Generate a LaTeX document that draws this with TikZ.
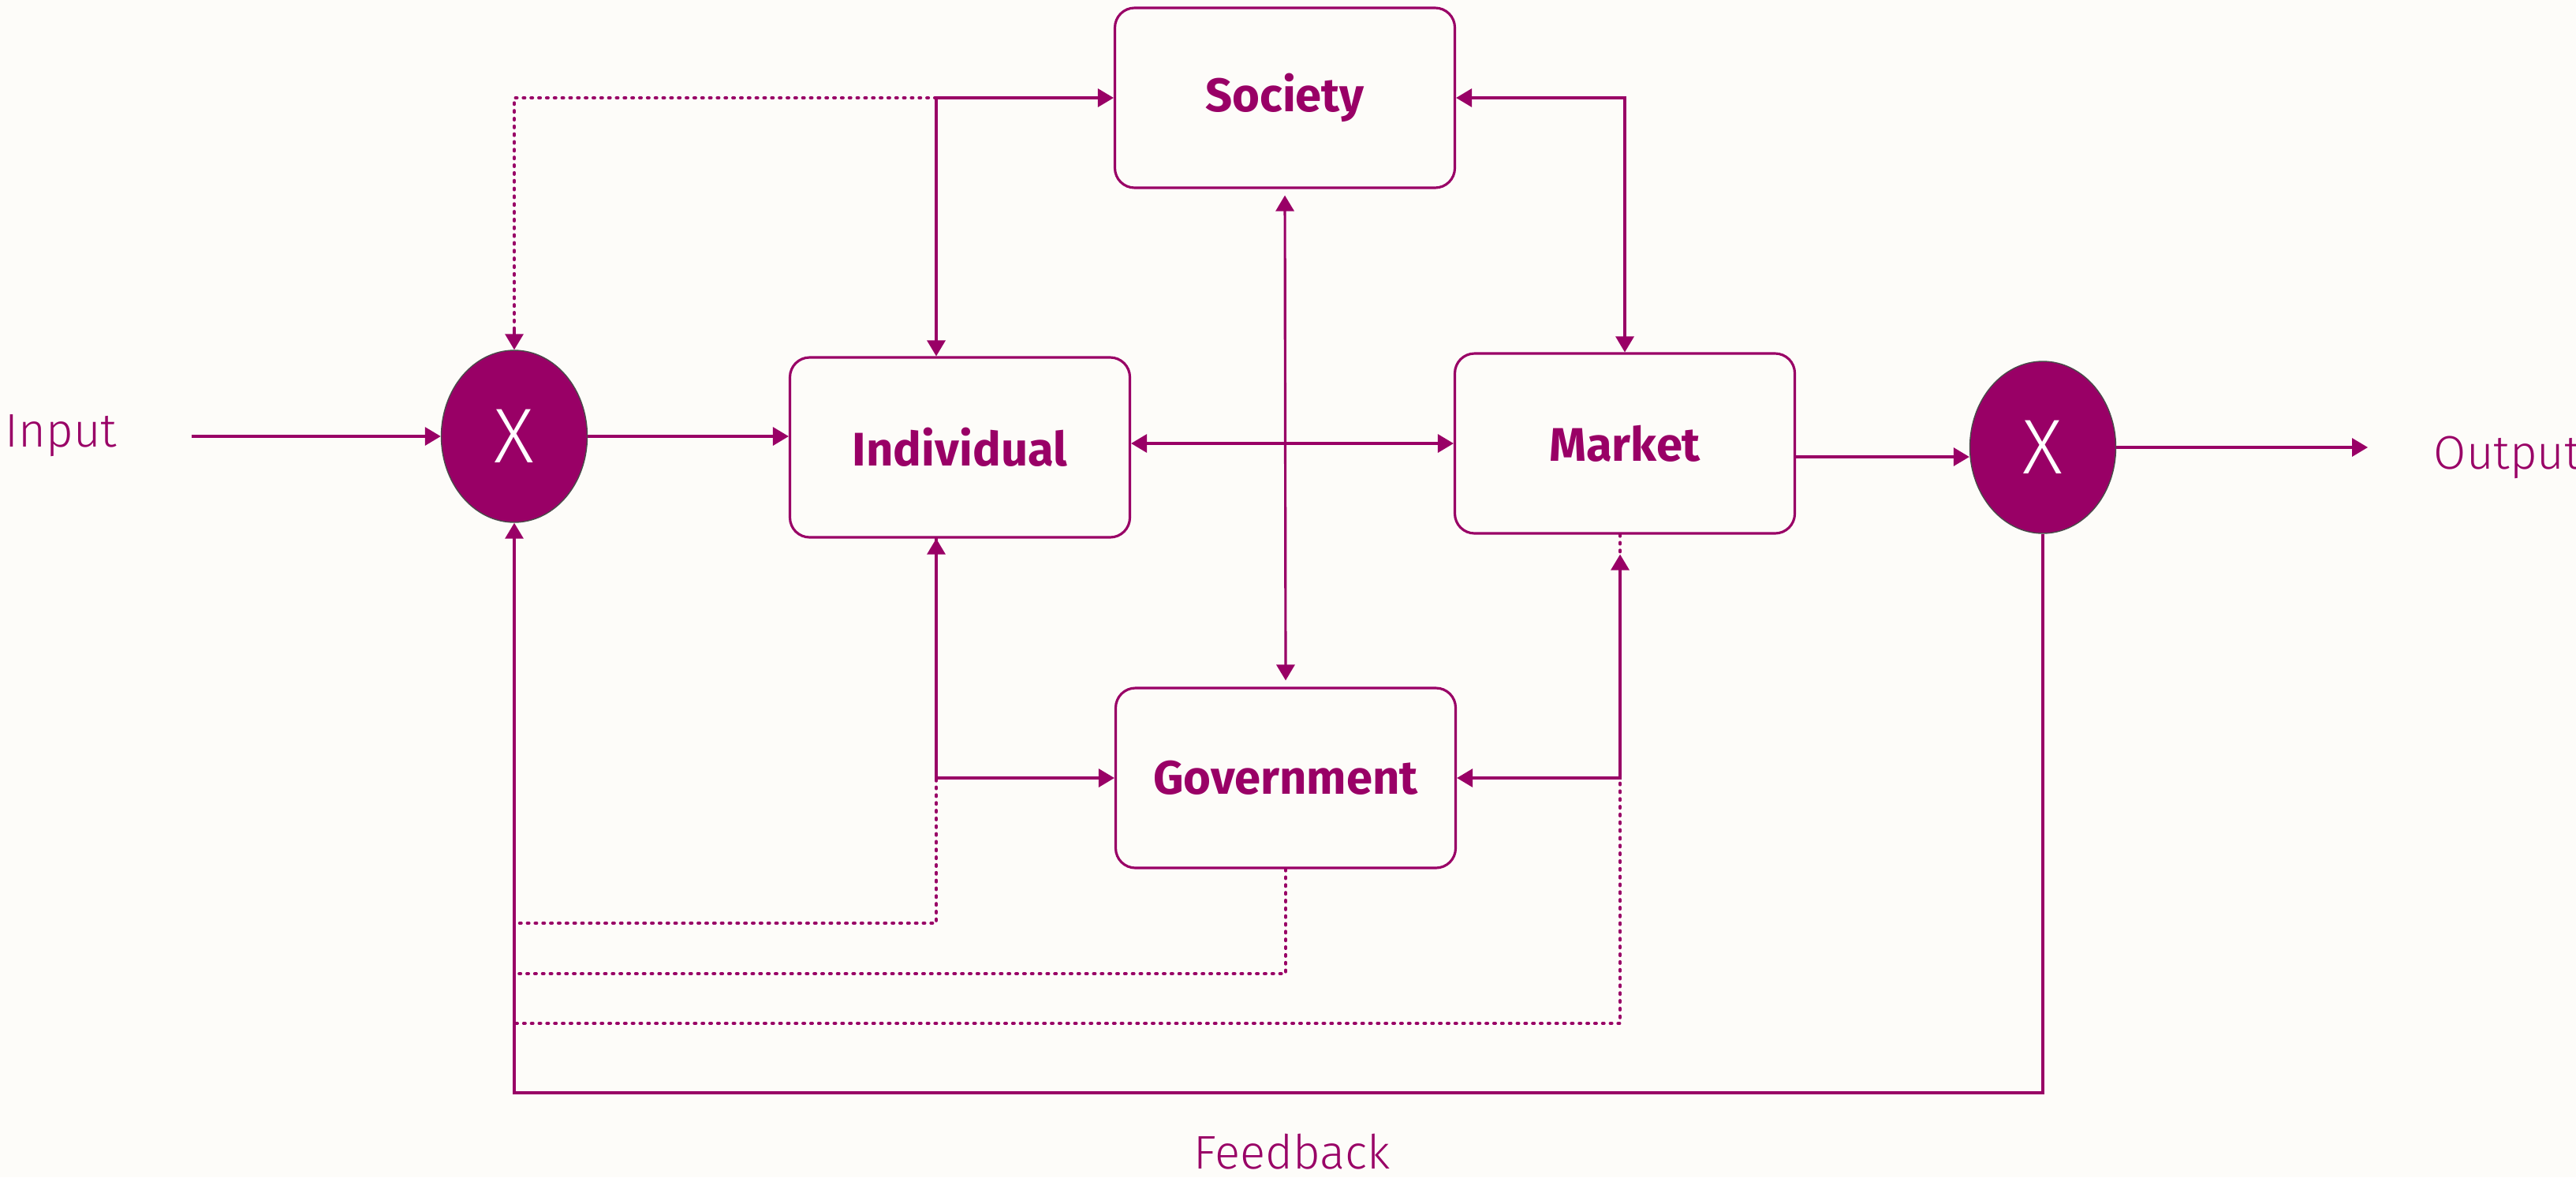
\documentclass[tikz,border=0pt]{standalone}
\usepackage{fontspec}
\setmainfont{Fira Sans}
\newfontfamily\thinfont{Fira Sans Light}
\usepackage{tikz}
\usetikzlibrary{arrows.meta, shapes.geometric}
\definecolor{plum}{HTML}{990066}
\definecolor{paper}{HTML}{FDFCF9}
\definecolor{rim}{HTML}{4A4A4A}

\begin{document}
\begin{tikzpicture}[>={Triangle[length=0.2cm, width=0.23cm]},
  block/.style={draw=plum, line width=0.9pt, rounded corners=0.25cm, minimum width=4.31cm, minimum height=2.28cm, text=plum, font=\fontsize{17}{20}\selectfont\bfseries},
  mult/.style={ellipse, draw=rim, line width=0.4pt, fill=plum, minimum width=1.85cm, minimum height=2.18cm, inner sep=0pt, text=white, font=\thinfont\fontsize{28}{32}\selectfont},
  tag/.style={text=plum, inner sep=0pt, font=\thinfont\fontsize{17}{20}\selectfont},
  link/.style={draw=plum, line width=0.9pt},
  fb/.style={draw=plum, line width=1.1pt, line cap=round, dash pattern=on 0.6pt off 2.2pt}]
  \useasboundingbox[fill=paper] (0,0) rectangle (32.66,-14.92);

  % Nodes
	\node[block] (soc) at (16.29,-1.24) {Society};
	\node[block] (ind) at (12.17,-5.67) {Individual};
	\node[block] (mkt) at (20.60,-5.62) {Market};
	\node[block] (gov) at (16.30,-9.86) {Government};
	\node[mult] (xl) at (6.52,-5.53) {X};
	\node[mult] (xr) at (25.90,-5.67) {X};
	\node[tag, anchor=west] (inp) at (0.06,-5.52) {Input};
	\node[tag, anchor=west] (out) at (30.85,-5.80) {Output};
	\node[tag] (fbk) at (16.38,-14.60) {Feedback};
	\coordinate (ij) at ([xshift=-3mm]ind.north |- soc.west);

  % Feedback paths (dotted, drawn first)
	\draw[fb] (ij) -- (xl.north |- ij) -- ([yshift=2.5mm]xl.north);
	\draw[link,->] ([yshift=2.5mm]xl.north) -- (xl.north);
	\draw[fb] ([xshift=-3mm]ind.south) |- (xl.south |- 0,-11.70);
	\draw[fb] (gov.south) |- (xl.south |- 0,-12.34);
	\draw[fb] ([xshift=-0.6mm]mkt.south) |- (xl.south |- 0,-12.97);

  % Main line
	\draw[link,->,shorten <=0.94cm] (inp.east |- xl.west) -- (xl.west);
	\draw[link,->] (xl.east) -- (xl.east -| ind.west);
	\draw[link,<->] (ind.east |- mkt.west) -- (mkt.west);
	\draw[link,->] ([yshift=-1.7mm]mkt.east) -- ([yshift=-1.7mm]mkt.east -| xr.west);
	\draw[link,->,shorten >=0.83cm] (xr.east) -- (xr.east -| out.west);

  % Links between the blocks
	\draw[link,<->,shorten <=0.8mm,shorten >=0.8mm] (soc.south) -- (gov.north);
	\draw[link,<->] ([xshift=-3mm]ind.north) |- (soc.west);
	\draw[link,<->] (soc.east) -| (mkt.north);
	\draw[link,<->] ([xshift=-3mm]ind.south) |- (gov.west);
	\draw[link,<->] ([xshift=-0.6mm,yshift=-2.5mm]mkt.south) |- (gov.east);

  % Feedback loop
	\draw[link,->] (xr.south) |- (xl.south |- 0,-13.85) -- (xl.south);
\end{tikzpicture}
\end{document}
